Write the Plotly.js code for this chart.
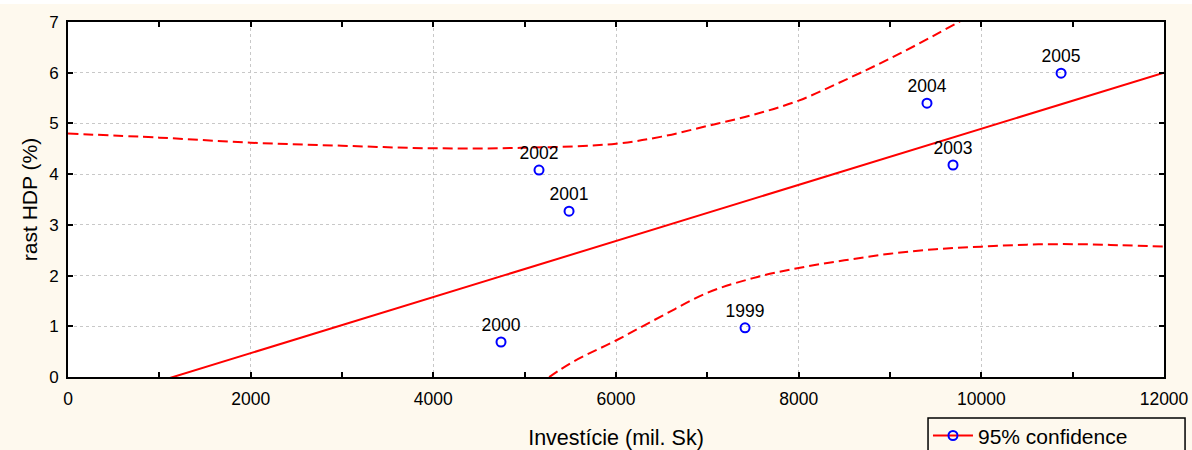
<!DOCTYPE html>
<html>
<head>
<meta charset="utf-8">
<script src="https://cdn.plot.ly/plotly-3.0.1.min.js"></script>
<style>html,body{margin:0;padding:0;background:#fef9ee;}#chart{width:1192px;height:450px;}</style>
</head>
<body>
<div id="chart"></div>
<script>
// Observed points
const years = ['1999','2000','2001','2002','2003','2004','2005'];
const investicie = [7413, 4741, 5486, 5157, 9690, 9405, 10873];
const rastHDP = [0.97, 0.69, 3.27, 4.08, 4.18, 5.40, 5.99];

// Regression line
const fitX = [0, 12000];
const fitY = [-0.636, 6.0];

// 95% confidence band, upper
const upperX = [0, 1000, 2000, 3000, 4000, 5000, 6000, 6500, 7000, 7500, 8000, 8500, 9000, 9500, 10000];
const upperY = [4.80, 4.72, 4.62, 4.56, 4.51, 4.52, 4.60, 4.74, 4.95, 5.17, 5.45, 5.85, 6.28, 6.75, 7.25];

// 95% confidence band, lower
const lowerX = [5000, 5500, 6000, 6500, 7000, 7500, 8000, 8500, 9000, 9500, 10000, 10500, 11000, 11500, 12000];
const lowerY = [-0.35, 0.27, 0.72, 1.20, 1.66, 1.95, 2.15, 2.30, 2.43, 2.52, 2.57, 2.61, 2.62, 2.60, 2.57];

const legendName = '95% confidence';
const xTitle = 'Investície (mil. Sk)';
const yTitle = 'rast HDP (%)';

const FONT = 'Liberation Sans, Arial, sans-serif';

const traces = [
  {x: fitX, y: fitY, mode: 'lines', line: {color: '#ff0000', width: 2}, showlegend: false, hoverinfo: 'skip'},
  {x: upperX, y: upperY, mode: 'lines', line: {color: '#ff0000', width: 2, dash: '10px,5px', shape: 'spline'}, showlegend: false, hoverinfo: 'skip'},
  {x: lowerX, y: lowerY, mode: 'lines', line: {color: '#ff0000', width: 2, dash: '10px,5px', shape: 'spline'}, showlegend: false, hoverinfo: 'skip'},
  {x: investicie, y: rastHDP, text: years, mode: 'markers+text', textposition: 'top center',
   textfont: {family: FONT, size: 17.5, color: '#000'},
   marker: {symbol: 'circle-open', size: 9, color: '#0000ff', line: {width: 2, color: '#0000ff'}},
   showlegend: false, cliponaxis: false},
  {x: [null], y: [null], name: legendName, mode: 'lines+markers',
   line: {color: '#ff0000', width: 2},
   marker: {symbol: 'circle-open', size: 9, color: '#0000ff', line: {width: 2, color: '#0000ff'}},
   showlegend: true}
];

const layout = {
  width: 1192, height: 450,
  margin: {l: 68, r: 28, t: 22, b: 73, autoexpand: false},
  paper_bgcolor: '#fef9ee',
  plot_bgcolor: '#ffffff',
  font: {family: FONT, size: 17, color: '#000'},
  showlegend: true,
  legend: {xref: 'container', yref: 'container', x: 0.7785, y: 0.077, xanchor: 'left', yanchor: 'top',
           bgcolor: 'rgba(0,0,0,0)', borderwidth: 0, itemwidth: 40,
           font: {family: FONT, size: 21, color: '#000'}},
  xaxis: {
    range: [0, 12000], dtick: 2000, tick0: 0, tickformat: 'd', ticks: 'inside', ticklen: 5, tickwidth: 2, tickcolor: '#000',
    minor: {dtick: 1000, ticks: 'inside', ticklen: 5, tickwidth: 2, tickcolor: '#000', showgrid: false},
    showline: true, linecolor: '#000', linewidth: 2, mirror: 'ticks', automargin: false,
    showgrid: true, gridcolor: '#c8c8c8', griddash: 'dot', gridwidth: 1,
    zeroline: false, tickfont: {family: FONT, size: 17.5}, ticklabelstandoff: 5,
    title: {text: xTitle, font: {family: FONT, size: 21.5}, standoff: 22}
  },
  yaxis: {
    range: [0, 7], dtick: 1, tick0: 0, ticks: 'inside', ticklen: 5, tickwidth: 2, tickcolor: '#000',
    showline: true, linecolor: '#000', linewidth: 2, mirror: 'ticks', automargin: false,
    showgrid: true, gridcolor: '#c8c8c8', griddash: 'dot', gridwidth: 1,
    zeroline: false, tickfont: {family: FONT, size: 17}, ticklabelstandoff: 4,
    title: {text: yTitle, font: {family: FONT, size: 21}, standoff: 6}
  },
  shapes: [
    {type: 'rect', xref: 'paper', yref: 'paper', x0: -0.07, x1: 1.03, y0: 1.051, y1: 1.08,
     fillcolor: '#ffffff', line: {width: 0}, layer: 'above'},
    {type: 'rect', xref: 'paper', yref: 'paper', x0: 0.7847, x1: 1.0192, y0: -0.215, y1: -0.1155,
     fillcolor: 'rgba(0,0,0,0)', line: {color: '#000', width: 1.5}, layer: 'above'}
  ]
};

Plotly.newPlot('chart', traces, layout, {displayModeBar: false, staticPlot: true});
</script>
</body>
</html>
